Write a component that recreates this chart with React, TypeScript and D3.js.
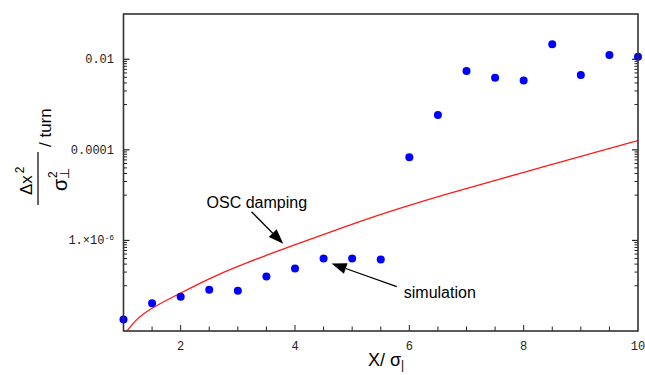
import React from "react";
import * as d3 from "d3";

// simulation points (x / sigma_par, growth per turn)
const simX = [1, 1.5, 2, 2.5, 3, 3.5, 4, 4.5, 5, 5.5, 6, 6.5, 7, 7.5, 8, 8.5, 9, 9.5, 10];
const simValues = [
    1.8e-8, 4.1e-8, 5.7e-8, 8.1e-8, 7.7e-8, 1.6e-7, 2.4e-7, 4.0e-7, 4.0e-7, 3.8e-7,
    6.9e-5, 5.9e-4, 5.5e-3, 3.9e-3, 3.4e-3, 0.0214, 4.5e-3, 0.0124, 0.0114,
];

// OSC damping curve
const oscX = [1.06, 1.2, 1.35, 1.6, 2, 2.5, 3, 3.5, 4, 4.6, 5, 5.8, 6.7, 7.6, 8.4, 9.3, 10];
const oscValues = [
    1e-8, 1.66e-8, 2.45e-8, 3.8e-8, 6.9e-8, 1.45e-7, 2.7e-7, 4.7e-7, 8.1e-7, 1.5e-6,
    2.3e-6, 5.0e-6, 1.1e-5, 2.3e-5, 4.4e-5, 9.1e-5, 1.6e-4,
];

const xTickLabels = [2, 4, 6, 8, 10];
const xMinorTicks = d3.range(1.5, 10, 0.5);
const yLabelExps = [-2, -4, -6];

const W = 645;
const H = 375;
const left = 123.5;
const right = 638;
const top = 14;
const bottom = 331;

const monoFont = "'Liberation Mono', 'DejaVu Sans Mono', monospace";
const sansFont = "'Liberation Sans', Arial, sans-serif";

const Arrow = ({ x1, y1, x2, y2 }: any) => {
    const a = Math.atan2(y2 - y1, x2 - x1);
    const len = 15;
    const hw = 5.5;
    const bx = x2 - len * Math.cos(a);
    const by = y2 - len * Math.sin(a);
    const px = -Math.sin(a) * hw;
    const py = Math.cos(a) * hw;
    return (
        <g>
            <line x1={x1} y1={y1} x2={bx} y2={by} stroke="#000" strokeWidth={1.3} />
            <polygon points={`${x2},${y2} ${bx + px},${by + py} ${bx - px},${by - py}`} fill="#000" />
        </g>
    );
};

const App = () => {
    const x = d3.scaleLinear().domain([1, 10]).range([left, right]);
    const y = d3.scaleLog().domain([1e-8, 0.1]).range([bottom, top]);

    const line = d3
        .line<number>()
        .x((_, i) => x(oscX[i]))
        .y((d) => y(d))
        .curve(d3.curveBasis);

    // log ticks: major at the labelled decade, minors through the decade below it
    const yMinor: number[] = [];
    yLabelExps.forEach((e) => {
        for (let k = 1; k <= 9; k++) yMinor.push(k * Math.pow(10, e - 1));
    });

    const oscTail = { x: 3.24, v: 4.3e-6 };
    const oscTip = { x: 3.795, v: 8.4e-7 };
    const simTail = { x: 5.78, v: 9.5e-8 };
    const simTip = { x: 4.64, v: 3.1e-7 };

    return (
        <svg width={W} height={H} style={{ position: "absolute", top: 0, left: 0, background: "#fff" }}>
            {/* y ticks, both sides */}
            {yMinor.map((v, i) => (
                <g key={`ym${i}`}>
                    <line x1={left} x2={left + 3.5} y1={y(v)} y2={y(v)} stroke="#222" strokeWidth={1} />
                    <line x1={right} x2={right - 3.5} y1={y(v)} y2={y(v)} stroke="#222" strokeWidth={1} />
                </g>
            ))}
            {yLabelExps.map((e) => (
                <g key={`yM${e}`}>
                    <line x1={left} x2={left + 6} y1={y(Math.pow(10, e))} y2={y(Math.pow(10, e))} stroke="#222" strokeWidth={1.2} />
                    <line x1={right} x2={right - 6} y1={y(Math.pow(10, e))} y2={y(Math.pow(10, e))} stroke="#222" strokeWidth={1.2} />
                </g>
            ))}
            <g fontFamily={monoFont} fontSize={12} fill="#222">
                <text x={114} y={y(1e-2) + 4} textAnchor="end">0.01</text>
                <text x={114} y={y(1e-4) + 4} textAnchor="end">0.0001</text>
                <text x={114} y={y(1e-6) + 4} textAnchor="end">
                    1.×10<tspan fontSize={8} dy={-4}>-6</tspan>
                </text>
            </g>

            {/* x ticks */}
            {xMinorTicks.map((t) => (
                <line key={`xt${t}`} x1={x(t)} x2={x(t)} y1={bottom} y2={bottom - (t % 2 === 0 ? 6 : 4.5)} stroke="#222" strokeWidth={1} />
            ))}
            <g fontFamily={monoFont} fontSize={12} fill="#222">
                {xTickLabels.map((t) => (
                    <text key={`xl${t}`} x={x(t)} y={350} textAnchor="middle">
                        {t}
                    </text>
                ))}
            </g>

            {/* OSC damping curve */}
            <path d={line(oscValues) || ""} fill="none" stroke="#ff1a1a" strokeWidth={1.3} />

            {/* simulation points */}
            {simValues.map((v, i) => (
                <circle key={`p${i}`} cx={x(simX[i])} cy={y(v)} r={4} fill="#0000ff" />
            ))}

            {/* frame */}
            <rect x={left} y={top} width={right - left} height={bottom - top} fill="none" stroke="#333" strokeWidth={1.6} />

            {/* annotations */}
            <Arrow x1={x(oscTail.x)} y1={y(oscTail.v)} x2={x(oscTip.x)} y2={y(oscTip.v)} />
            <text x={x(oscTail.x) - 45} y={y(oscTail.v) - 4} fontFamily={sansFont} fontSize={16} fill="#000">
                OSC damping
            </text>
            <Arrow x1={x(simTail.x)} y1={y(simTail.v)} x2={x(simTip.x)} y2={y(simTip.v)} />
            <text x={x(simTail.x) + 7} y={y(simTail.v) + 11} fontFamily={sansFont} fontSize={16} fill="#000">
                simulation
            </text>

            {/* x label */}
            <text x={386} y={366} textAnchor="middle" fontFamily={sansFont} fontSize={18} fill="#000">
                X/ σ<tspan fontSize={12} dy={3}>|</tspan>
            </text>

            {/* y label */}
            <g transform="translate(38,178) rotate(-90)" fontFamily={sansFont} fill="#000">
                <line x1={-27} x2={26} y1={0} y2={0} stroke="#000" strokeWidth={1.2} />
                <text x={-17} y={-6} fontSize={17}>
                    Δx<tspan fontSize={12} dx={2} dy={-8}>2</tspan>
                </text>
                <text x={-13} y={29} fontSize={20}>σ</text>
                <text x={0} y={19} fontSize={12}>2</text>
                <text x={-1} y={31} fontSize={13}>⊥</text>
                <text x={31} y={13} fontSize={17}>/ turn</text>
            </g>
        </svg>
    );
};

export default App;
